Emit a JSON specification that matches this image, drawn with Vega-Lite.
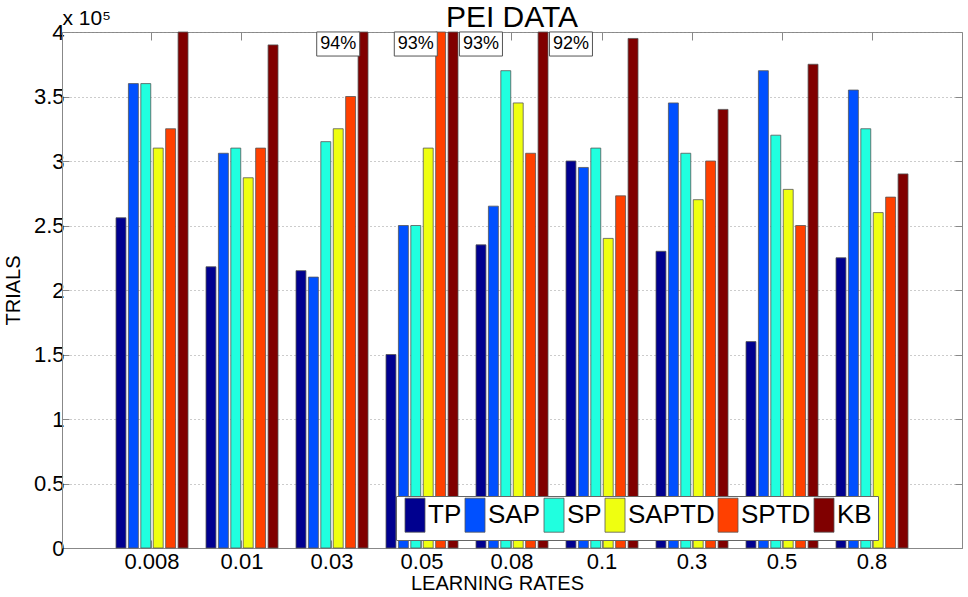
{
  "$schema": "https://vega.github.io/schema/vega-lite/v6.json",
  "width": 900,
  "height": 516,
  "autosize": {"type": "none"},
  "padding": {"left": 62, "top": 32, "right": 6, "bottom": 49},
  "background": "white",
  "title": {"text": "PEI DATA", "fontSize": 30, "fontWeight": "normal", "font": "Liberation Sans", "color": "black", "anchor": "middle", "frame": "group", "offset": -26},
  "config": {
    "font": "Liberation Sans",
    "view": {"stroke": "#888", "strokeWidth": 1},
    "axis": {"labelColor": "black", "titleColor": "black", "domainColor": "#888", "tickColor": "#888", "labelFont": "Liberation Sans", "titleFont": "Liberation Sans", "titleFontWeight": "normal"}
  },
  "datasets": {
    "bars": [
      {"rate": "0.008", "series": "TP", "trials": 256000},
      {"rate": "0.008", "series": "SAP", "trials": 360000},
      {"rate": "0.008", "series": "SP", "trials": 360000},
      {"rate": "0.008", "series": "SAPTD", "trials": 310000},
      {"rate": "0.008", "series": "SPTD", "trials": 325000},
      {"rate": "0.008", "series": "KB", "trials": 400000},
      {"rate": "0.01", "series": "TP", "trials": 218000},
      {"rate": "0.01", "series": "SAP", "trials": 306000},
      {"rate": "0.01", "series": "SP", "trials": 310000},
      {"rate": "0.01", "series": "SAPTD", "trials": 287000},
      {"rate": "0.01", "series": "SPTD", "trials": 310000},
      {"rate": "0.01", "series": "KB", "trials": 390000},
      {"rate": "0.03", "series": "TP", "trials": 215000},
      {"rate": "0.03", "series": "SAP", "trials": 210000},
      {"rate": "0.03", "series": "SP", "trials": 315000},
      {"rate": "0.03", "series": "SAPTD", "trials": 325000},
      {"rate": "0.03", "series": "SPTD", "trials": 350000},
      {"rate": "0.03", "series": "KB", "trials": 400000},
      {"rate": "0.05", "series": "TP", "trials": 150000},
      {"rate": "0.05", "series": "SAP", "trials": 250000},
      {"rate": "0.05", "series": "SP", "trials": 250000},
      {"rate": "0.05", "series": "SAPTD", "trials": 310000},
      {"rate": "0.05", "series": "SPTD", "trials": 400000},
      {"rate": "0.05", "series": "KB", "trials": 400000},
      {"rate": "0.08", "series": "TP", "trials": 235000},
      {"rate": "0.08", "series": "SAP", "trials": 265000},
      {"rate": "0.08", "series": "SP", "trials": 370000},
      {"rate": "0.08", "series": "SAPTD", "trials": 345000},
      {"rate": "0.08", "series": "SPTD", "trials": 306000},
      {"rate": "0.08", "series": "KB", "trials": 400000},
      {"rate": "0.1", "series": "TP", "trials": 300000},
      {"rate": "0.1", "series": "SAP", "trials": 295000},
      {"rate": "0.1", "series": "SP", "trials": 310000},
      {"rate": "0.1", "series": "SAPTD", "trials": 240000},
      {"rate": "0.1", "series": "SPTD", "trials": 273000},
      {"rate": "0.1", "series": "KB", "trials": 395000},
      {"rate": "0.3", "series": "TP", "trials": 230000},
      {"rate": "0.3", "series": "SAP", "trials": 345000},
      {"rate": "0.3", "series": "SP", "trials": 306000},
      {"rate": "0.3", "series": "SAPTD", "trials": 270000},
      {"rate": "0.3", "series": "SPTD", "trials": 300000},
      {"rate": "0.3", "series": "KB", "trials": 340000},
      {"rate": "0.5", "series": "TP", "trials": 160000},
      {"rate": "0.5", "series": "SAP", "trials": 370000},
      {"rate": "0.5", "series": "SP", "trials": 320000},
      {"rate": "0.5", "series": "SAPTD", "trials": 278000},
      {"rate": "0.5", "series": "SPTD", "trials": 250000},
      {"rate": "0.5", "series": "KB", "trials": 375000},
      {"rate": "0.8", "series": "TP", "trials": 225000},
      {"rate": "0.8", "series": "SAP", "trials": 355000},
      {"rate": "0.8", "series": "SP", "trials": 325000},
      {"rate": "0.8", "series": "SAPTD", "trials": 260000},
      {"rate": "0.8", "series": "SPTD", "trials": 272000},
      {"rate": "0.8", "series": "KB", "trials": 290000}
    ],
    "notes": [
      {"rate": "0.03", "series": "SAPTD", "label": "94%"},
      {"rate": "0.05", "series": "SP", "label": "93%"},
      {"rate": "0.08", "series": "TP", "label": "93%"},
      {"rate": "0.1", "series": "TP", "label": "92%"}
    ]
  },
  "resolve": {"axis": {"x": "independent", "y": "independent"}},
  "layer": [
    {
      "data": {"name": "bars"},
      "mark": {"type": "bar", "stroke": "#555", "strokeWidth": 0.8},
      "encoding": {
        "x": {
          "field": "rate", "type": "nominal", "sort": null,
          "scale": {"domain": ["0.008", "0.01", "0.03", "0.05", "0.08", "0.1", "0.3", "0.5", "0.8"], "paddingInner": 0.2, "paddingOuter": 0.6},
          "axis": {"orient": "bottom", "title": "LEARNING RATES", "titleFontSize": 20, "titlePadding": 1, "titleX": 435, "labelFontSize": 22, "labelAngle": 0, "labelPadding": 11, "tickSize": -8, "tickColor": "#888", "domainColor": "#888"}
        },
        "xOffset": {
          "field": "series", "type": "nominal", "sort": null,
          "scale": {"domain": ["TP", "SAP", "SP", "SAPTD", "SPTD", "KB"], "paddingInner": 0.2}
        },
        "y": {
          "field": "trials", "type": "quantitative",
          "scale": {"domain": [0, 400000], "nice": false},
          "axis": {"orient": "left", "title": "TRIALS", "titleFontSize": 20, "titlePadding": 10, "values": [0, 50000, 100000, 150000, 200000, 250000, 300000, 350000, 400000], "labelExpr": "datum.value / 100000", "labelFontSize": 22, "labelPadding": 5, "tickSize": -7, "grid": true, "gridDash": [1, 3], "gridColor": "#999", "gridWidth": 1}
        },
        "color": {
          "field": "series", "type": "nominal", "sort": null,
          "scale": {"domain": ["TP", "SAP", "SP", "SAPTD", "SPTD", "KB"], "range": ["#00008F", "#0050FF", "#20FFDF", "#EFFF10", "#FF4000", "#800000"]},
          "legend": {"orient": "none", "legendX": 334, "legendY": 464, "direction": "horizontal", "title": null, "symbolType": "M-1,-1.7H1V1.7H-1Z", "symbolSize": 400, "symbolStrokeColor": "#555", "symbolStrokeWidth": 0.8, "symbolOpacity": 1, "labelFontSize": 26, "labelFont": "Liberation Sans", "labelColor": "black", "labelOffset": 0, "columnPadding": -4, "padding": 6, "strokeColor": "#666", "fillColor": "white"}
        }
      }
    },
    {
      "data": {"name": "notes"},
      "mark": {"type": "point", "shape": "M-1,-0.56H1V0.56H-1Z", "size": 1849, "filled": true, "fill": "white", "stroke": "#555", "strokeWidth": 1, "opacity": 1, "yOffset": 12},
      "encoding": {
        "x": {"field": "rate", "type": "nominal", "sort": null, "axis": {"orient": "top", "labels": false, "domain": false, "tickSize": -8, "tickColor": "#888", "title": "x 10⁵", "titleFontSize": 21, "titleX": 0, "titleY": -4, "titleAlign": "left", "titleBaseline": "bottom", "titleAngle": 0, "titleAnchor": null}},
        "xOffset": {"field": "series", "type": "nominal", "sort": null},
        "y": {"datum": 400000, "type": "quantitative", "axis": {"orient": "right", "labels": false, "domain": false, "grid": false, "tickSize": -7, "tickColor": "#888", "title": null, "values": [0, 50000, 100000, 150000, 200000, 250000, 300000, 350000, 400000]}}
      }
    },
    {
      "data": {"name": "notes"},
      "mark": {"type": "text", "fontSize": 18, "font": "Liberation Sans", "color": "black", "align": "center", "baseline": "middle", "yOffset": 12},
      "encoding": {
        "x": {"field": "rate", "type": "nominal", "sort": null, "axis": null},
        "xOffset": {"field": "series", "type": "nominal", "sort": null},
        "y": {"datum": 400000, "type": "quantitative", "axis": null},
        "text": {"field": "label"}
      }
    }
  ]
}
